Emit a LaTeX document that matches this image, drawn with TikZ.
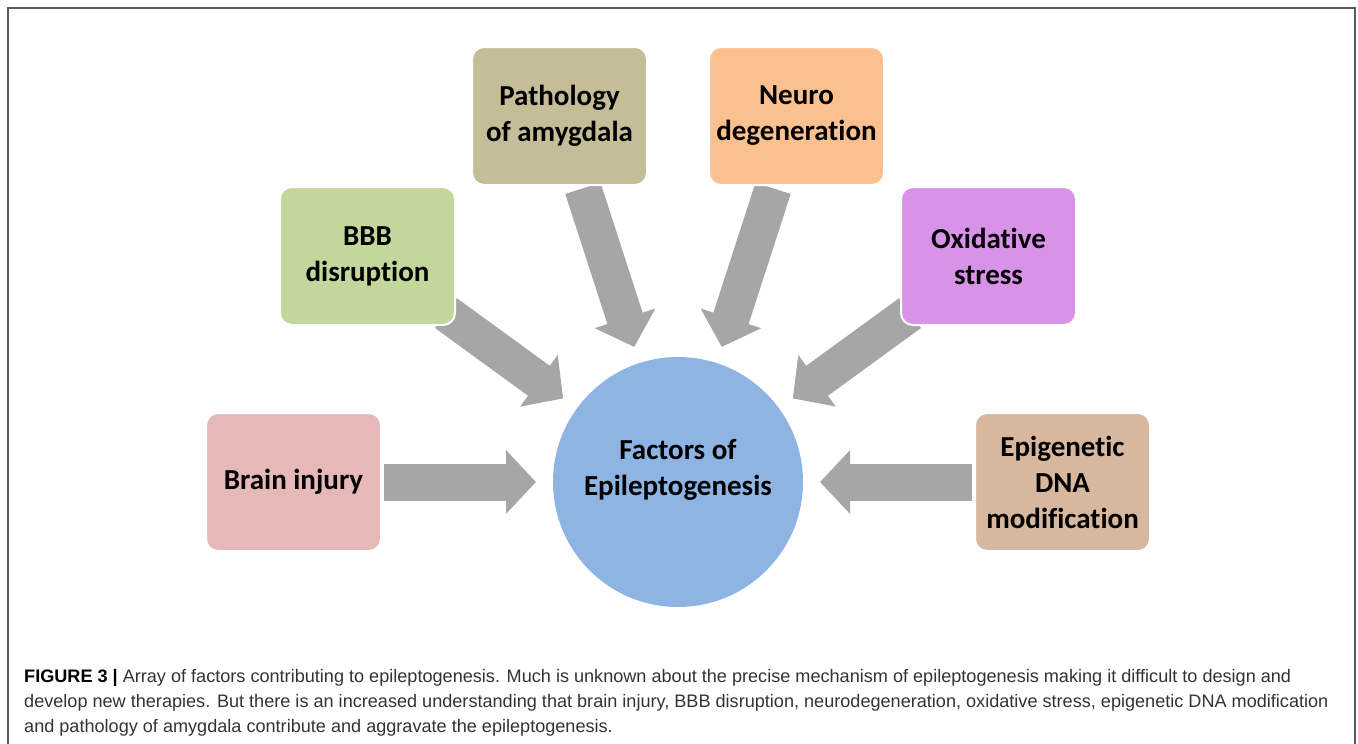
\documentclass[tikz,border=0pt]{standalone}
\usepackage{fontspec}
\setmainfont{Carlito}[Ligatures=NoCommon]
\newfontfamily\capfont{Liberation Sans}
\usepackage{tikz}
\usetikzlibrary{positioning,arrows.meta,backgrounds}
\definecolor{brainpink}{HTML}{E6B9B8}
\definecolor{bbbgreen}{HTML}{C3D69B}
\definecolor{pathtan}{HTML}{C4BD97}
\definecolor{neuroorange}{HTML}{FAC090}
\definecolor{oxpurple}{HTML}{D892E8}
\definecolor{epitan}{HTML}{D7B79D}
\definecolor{factorblue}{HTML}{8EB4E3}
\definecolor{arrowgray}{HTML}{A6A6A6}
\definecolor{framegray}{HTML}{5A5A5A}

\begin{document}
\begin{tikzpicture}[x=1pt,y=-1pt,every node/.style={on grid},
    box/.style={rectangle,rounded corners=12pt,draw=white,line width=2pt,minimum width=175pt,minimum height=138pt,inner sep=0pt,align=center,font=\fontsize{29}{36}\selectfont\bfseries},
    fat/.style={draw=arrowgray,line width=37pt,-{Triangle[length=30pt,width=62pt]},shorten >=142pt}]
    \useasboundingbox (0,0) rectangle (1358,744);
    \draw[framegray,line width=1.5pt] (8,750) -- (8,8) -- (1355,8) -- (1355,750);
    \node[circle,fill=factorblue,minimum size=250pt,inner sep=0pt,align=center,text depth=30pt,font=\fontsize{29}{36}\selectfont\bfseries] (F) at (678,482) {Factors of\\Epileptogenesis};
    \node[box,fill=brainpink,left=384.5pt of F] (Brain) {Brain injury};
    \node[box,fill=bbbgreen,above left=226pt and 310.5pt of F] (BBB) {BBB\\disruption};
    \node[box,fill=pathtan,above left=366pt and 118.5pt of F] (Path) {Pathology\\of amygdala};
    \node[box,fill=neuroorange,above right=366pt and 118.5pt of F] (Neuro) {Neuro\\degeneration};
    \node[box,fill=oxpurple,above right=226pt and 310.5pt of F] (Ox) {Oxidative\\stress};
    \node[box,fill=epitan,right=384.5pt of F] (Epi) {Epigenetic\\DNA\\modification};
    \begin{scope}[on background layer]
      \draw[fat,shorten <=90.5pt] (Brain.center) -- (F.center);
      \draw[fat,shorten <=97pt] (BBB.center) -- (F.center);
      \draw[fat,shorten <=76pt] (Path.center) -- (F.center);
      \draw[fat,shorten <=76pt] (Neuro.center) -- (F.center);
      \draw[fat,shorten <=97pt] (Ox.center) -- (F.center);
      \draw[fat,shorten <=90.5pt] (Epi.center) -- (F.center);
    \end{scope}
    \node[anchor=north west,align=left,inner sep=0pt,text=black!80,font=\capfont\fontsize{18.1}{25}\selectfont] (Cap) at (24,669) {{\color{black}\textbf{FIGURE 3 |}} Array of factors contributing to epileptogenesis. Much is unknown about the precise mechanism of epileptogenesis making it difficult to design and\\develop new therapies. But there is an increased understanding that brain injury, BBB disruption, neurodegeneration, oxidative stress, epigenetic DNA modification\\and pathology of amygdala contribute and aggravate the epileptogenesis.};
  \end{tikzpicture}
\end{document}
